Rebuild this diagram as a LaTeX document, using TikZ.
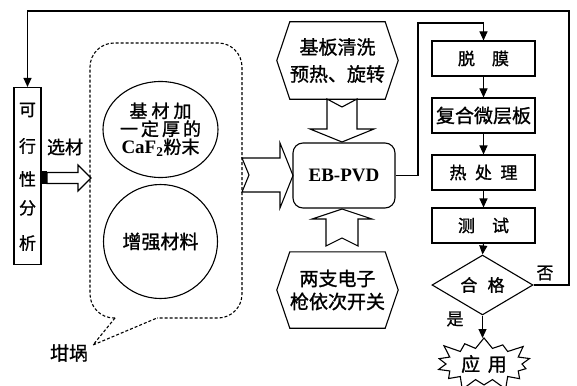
\documentclass[tikz,border=0pt]{standalone}
\usepackage{fontspec}
\setmainfont{Liberation Serif}
\newfontfamily\cjk[FakeBold=1.2]{Noto Sans CJK SC}
\usetikzlibrary{shapes.geometric,shapes.symbols,arrows.meta,calc}
\begin{document}
\begin{tikzpicture}[x=1pt,y=-1pt,
  lw/.style={line width=1.1pt},
  cj/.style={font=\cjk\fontsize{#1}{#1}\selectfont},
  cj/.default=17,
  boxnode/.style={draw,lw,rectangle,inner sep=0pt,minimum width=103pt,minimum height=35pt,cj=17},
  arr/.style={lw,-{Triangle[width=8pt,length=9pt]}},
  fat/.style={lw,fill=white,line join=miter},
  dsh/.style={lw,dash pattern=on 3pt off 2pt},
  lbl/.style={inner sep=0pt}]
\useasboundingbox (0,0) rectangle (577,385);

% left box
\node[draw,lw,minimum width=27pt,minimum height=177pt,inner sep=0pt] (kx) at (27.5,176) {};
\node[lbl,cj=17] (k1) at (27.5,110) {可};
\node[lbl,cj=17] (k2) at (27.5,146) {行};
\node[lbl,cj=17] (k3) at (27.5,179) {性};
\node[lbl,cj=17] (k4) at (27.5,208) {分};
\node[lbl,cj=17] (k5) at (27.5,243) {析};
\node[lbl,cj=18] (xc) at (65,147) {选材};

% select arrow
\fill (40,171) rectangle (47,184);
\draw[fat] (47,172.5) -- (78,172.5) -- (78,165) -- (91,178) -- (78,191) -- (78,183.5) -- (47,183.5) -- cycle;

% crucible callout
\draw[dsh,rounded corners=24pt] (115,318) -- (90,318) -- (90,43) -- (242,43) -- (242,318) -- (157,318);
\draw[dsh] (115,318) -- (93,345) -- (157,318);
\coordinate (tail) at (93,345);
\node[lbl,cj=19] (gg) at (69,353) {坩埚};

% circles
\node[draw,lw,ellipse,minimum width=115pt,minimum height=96pt,inner sep=0pt,align=center,cj=18] (c1) at (160.5,129.5)
  {\cjk\fontsize{18}{20}\selectfont 基\hspace{4pt}材\hspace{4pt}加\\ 一\hspace{3pt}定\hspace{3pt}厚\hspace{3pt}的\\ {\rmfamily\bfseries\fontsize{19}{20}\selectfont CaF\textsubscript{2}}粉末};
\node[draw,lw,circle,minimum size=114pt,inner sep=0pt,cj=19] (c2) at (160.5,241.5) {增强材料};

% right fat arrow
\draw[fat] (242,158) -- (280,158) -- (280,143) -- (293,175.5) -- (280,208) -- (280,192) -- (242,192) -- (249,175) -- cycle;

% EB-PVD
\node[draw,lw,rounded corners=10pt,minimum width=102pt,minimum height=65pt,inner sep=0pt,font=\bfseries\fontsize{19}{20}\selectfont] (eb) at (344,175.5) {EB-PVD};

% hexagon top
\node[lbl,minimum width=85pt,minimum height=77pt,align=center,font=\cjk\fontsize{19}{27}\selectfont] (hx1) at (337.5,60.5) {基板清洗\\预热、旋转};
\draw[lw] (hx1.north west) -- (hx1.north east) -- ([xshift=13pt]hx1.east) -- (hx1.south east) -- (hx1.south west) -- ([xshift=-13pt]hx1.west) -- cycle;
% hexagon bottom
\node[lbl,minimum width=85pt,minimum height=76pt,align=center,font=\cjk\fontsize{19}{23}\selectfont] (hx2) at (337.5,290) {两支电子\\枪依次开关};
\draw[lw] (hx2.north west) -- (hx2.north east) -- ([xshift=13pt]hx2.east) -- (hx2.south east) -- (hx2.south west) -- ([xshift=-13pt]hx2.west) -- cycle;

% down fat arrow
\draw[fat] (327,99) -- (342,107) -- (357,99) -- (357,129) -- (374,129) -- (342,142) -- (310,129) -- (327,129) -- cycle;
% up fat arrow
\draw[fat] (326,246) -- (342,238) -- (358,246) -- (358,219) -- (372,219) -- (342,209) -- (312,219) -- (326,219) -- cycle;

% right column
\node[boxnode] (tm) at (483.5,58.5) {脱\hspace{1em}膜};
\node[boxnode,cj=19] (fh) at (483.5,115.5) {复合微层板};
\node[boxnode] (rc) at (483.5,172.5) {热\hspace{0.5em}处\hspace{0.5em}理};
\node[boxnode] (cs) at (483.5,225.5) {测\hspace{1em}试};
\node[draw,lw,diamond,minimum width=101pt,minimum height=44pt,inner sep=0pt,cj=17] (hg) at (482.5,285) {合\hspace{0.6em}格};
\node[draw,lw,starburst,starburst points=14,starburst point height=14pt,minimum width=104pt,minimum height=60pt,inner sep=0pt,cj=19] (yy) at (484,364) {应\hspace{0.4em}用};

\coordinate (e1) at (418,23);
\draw[arr] (eb.east) -| (e1) -| (tm.north);
\draw[arr] (tm.south) -- (fh.north);
\draw[arr] (fh.south) -- (rc.north);
\draw[arr] (rc.south) -- (cs.north);
\draw[arr] (cs.south) -- (hg.north);
\coordinate (yt) at (482.5,338);
\draw[arr] (hg.south) -- (yt);
\coordinate (f1) at (569,11);
\draw[arr] (hg.east) -| (f1) -| (kx.north);
\node[lbl,cj=17] (no) at (545,273) {否};
\node[lbl,cj=17] (yes) at (455,319) {是};
\end{tikzpicture}
\end{document}
